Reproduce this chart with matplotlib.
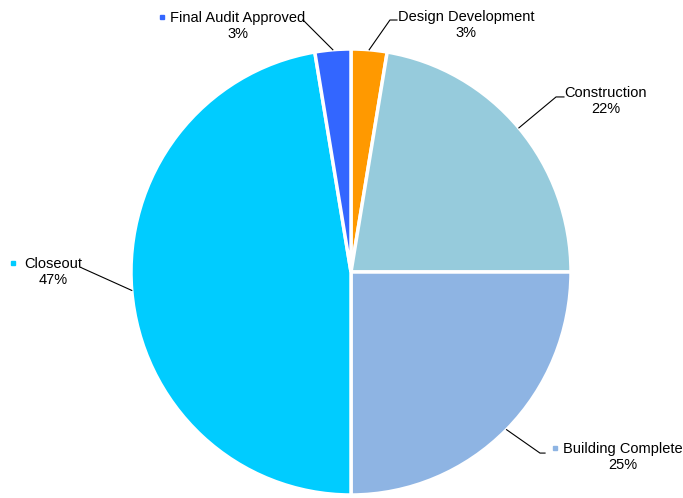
import numpy as np
import matplotlib
matplotlib.use("Agg")
from matplotlib import pyplot as plt

plt.rcParams['font.family'] = ['Liberation Sans', 'DejaVu Sans']

# data
phases = ['Design Development', 'Construction', 'Building Complete', 'Closeout', 'Final Audit Approved']
counts = [1, 8.5, 9.5, 18, 1]
pct_labels = ['3%', '22%', '25%', '47%', '3%']
colors = ['#FF9900', '#96CBDC', '#8EB4E3', '#00CCFF', '#3366FF']

# label layout: text centre, elbow, end of leader, marker (None = no marker)
layout = {
    'Design Development':   ((0.523, 1.108), (0.177, 1.130), (0.209, 1.130), None),
    'Construction':         ((1.159, 0.767), (0.932, 0.785), (0.968, 0.785), None),
    'Building Complete':    ((1.236, -0.830), (0.859, -0.812), (0.882, -0.812), (0.927, -0.789)),
    'Closeout':             ((-1.355, 0.0), (-1.223, 0.018), (-1.223, 0.018), (-1.536, 0.040)),
    'Final Audit Approved': ((-0.514, 1.103), (-0.218, 1.130), (-0.218, 1.130), (-0.859, 1.143)),
}

fig = plt.figure(figsize=(6.83, 4.98), dpi=100)
# pie is a touch taller than wide in the original
ax = fig.add_axes([131/683, 3/498, 440/683, 446/498])
wedges, _ = ax.pie(counts, colors=colors, startangle=90, counterclock=False,
                   radius=1, wedgeprops=dict(edgecolor='white', linewidth=2.5))
ax.set_xlim(-1, 1)
ax.set_ylim(-1, 1)
ax.set_aspect('auto')
ax.axis('off')

for w, name, pct, col in zip(wedges, phases, pct_labels, colors):
    mid = np.deg2rad((w.theta1 + w.theta2) / 2)
    px, py = np.cos(mid), np.sin(mid)
    (tx, ty), (ex, ey), (lx, ly), mk = layout[name]
    ax.plot([px, ex, lx], [py, ey, ly], color='black', lw=0.8, clip_on=False)
    ax.text(tx, ty, name + '\n' + pct, ha='center', va='center', fontsize=10.5,
            linespacing=1.2, multialignment='center', clip_on=False)
    if mk is not None:
        ax.plot(mk[0], mk[1], marker='s', ms=3, color=col, mec=col, clip_on=False)

fig.savefig('out.png', dpi=100)
